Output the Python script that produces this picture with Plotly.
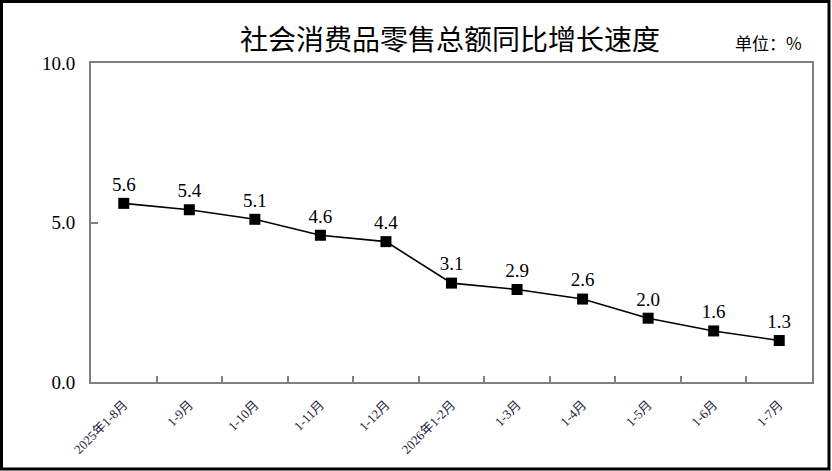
import plotly.graph_objects as go

# categories and values
periods = ["2025年1-8月", "1-9月", "1-10月", "1-11月", "1-12月",
           "2026年1-2月", "1-3月", "1-4月", "1-5月", "1-6月", "1-7月"]
growth = [5.6, 5.4, 5.1, 4.6, 4.4, 3.1, 2.9, 2.6, 2.0, 1.6, 1.3]
y_ticks = [0, 5, 10]

W, H = 832, 471
L, R, T, B = 91, 20, 63, 89
pw, ph = W - L - R, H - T - B

NUM_FONT = "Liberation Serif, Noto Sans CJK SC"
CJK_FONT = "Noto Sans CJK SC"


def px2paper(x, y):
    return (x - L) / pw, (H - B - y) / ph


fig = go.Figure()
fig.add_trace(go.Scatter(
    x=periods, y=growth,
    mode="lines+markers+text",
    line=dict(color="black", width=1.6),
    marker=dict(symbol="square", size=11, color="black"),
    text=growth,
    texttemplate="%{y:.1f}",
    textposition="top center",
    textfont=dict(family=NUM_FONT, size=19, color="black"),
    cliponaxis=False,
    showlegend=False,
))

fig.update_xaxes(
    type="category", automargin=False,
    range=[-0.5, len(periods) - 0.5],
    tickson="boundaries",
    ticks="inside", ticklen=6, tickwidth=2, tickcolor="#808080",
    showline=True, linecolor="#808080", linewidth=2, mirror=True,
    showgrid=False, zeroline=False,
    tickangle=-45, ticklabelstandoff=8,
    tickfont=dict(family=NUM_FONT, size=13, color="#1c1c40"),
)
fig.update_yaxes(
    range=[0, 10], tickvals=y_ticks, tickformat=".1f", automargin=False,
    ticks="inside", ticklen=7, tickwidth=2, tickcolor="#808080",
    showline=True, linecolor="#808080", linewidth=2, mirror=True,
    showgrid=False, zeroline=False,
    ticklabelstandoff=10,
    tickfont=dict(family=NUM_FONT, size=19, color="black"),
)

# outer black frame
x0, y0 = px2paper(1.5, H - 2)
x1, y1 = px2paper(W - 3, 1.5)
fig.add_shape(type="rect", xref="paper", yref="paper",
              x0=x0, y0=y0, x1=x1, y1=y1,
              line=dict(color="black", width=3), layer="above")

ux, uy = px2paper(768, 42)
fig.add_annotation(xref="paper", yref="paper", x=ux, y=uy,
                   text="单位：%", showarrow=False,
                   xanchor="center", yanchor="middle",
                   font=dict(family=CJK_FONT, size=17, color="black"))

fig.update_layout(
    width=W, height=H,
    margin=dict(l=L, r=R, t=T, b=B, autoexpand=False),
    paper_bgcolor="white", plot_bgcolor="white",
    title=dict(
        text="社会消费品零售总额同比增长速度",
        x=450 / W, y=1 - 40 / H, xref="container", yref="container",
        xanchor="center", yanchor="middle",
        font=dict(family=CJK_FONT, size=28, color="black"),
    ),
)

# drop the default 8px body margin so the figure sits at the page corner
fig.write_html("out.html",
               config={"displayModeBar": False},
               post_script="document.body.style.margin='0';"
                           "document.body.style.overflow='hidden';")
